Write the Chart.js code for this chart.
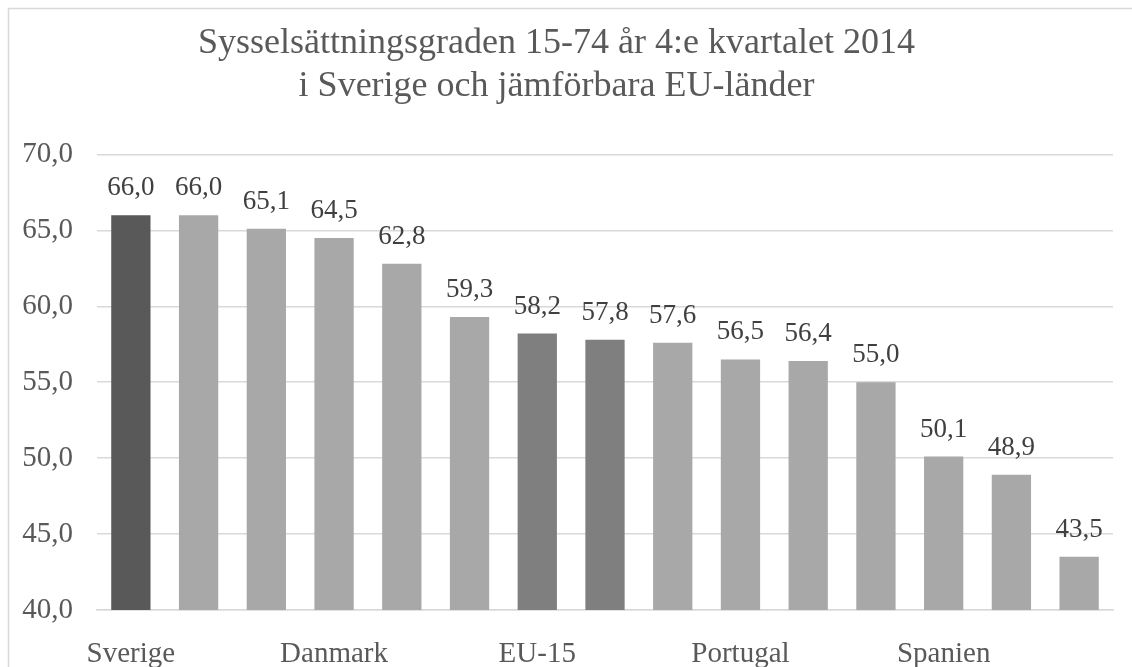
<!DOCTYPE html>
<html>
<head>
<meta charset="utf-8">
<script src="https://cdn.jsdelivr.net/npm/chart.js@4"></script>
<style>
html,body{margin:0;padding:0;background:#fff;overflow:hidden;}
#wrap{position:absolute;left:0;top:0;width:1132px;height:667px;}
</style>
</head>
<body>
<div id="wrap"><canvas id="c" width="1132" height="667"></canvas></div>
<script>
const titleLines = ["Sysselsättningsgraden 15-74 år 4:e kvartalet 2014", "i Sverige och jämförbara EU-länder"];
const categories = ["Sverige","Tyskland","Nederländerna","Danmark","Storbritannien","Österrike","EU-15","EU-28","Finland","Portugal","Frankrike","Belgien","Spanien","Italien","Grekland"];
const values = [66.0,66.0,65.1,64.5,62.8,59.3,58.2,57.8,57.6,56.5,56.4,55.0,50.1,48.9,43.5];
const barColors = ["#595959","#a8a8a8","#a8a8a8","#a8a8a8","#a8a8a8","#a8a8a8","#7f7f7f","#7f7f7f","#a8a8a8","#a8a8a8","#a8a8a8","#a8a8a8","#a8a8a8","#a8a8a8","#a8a8a8"];
const yMin = 40, yMax = 70, yStep = 5;

const FONT = '"Liberation Serif", "Times New Roman", serif';
const fmt = v => v.toFixed(1).replace('.', ',');

const borderPlugin = {
  id: 'outerBorder',
  beforeDraw(chart) {
    const ctx = chart.ctx;
    ctx.save();
    ctx.fillStyle = '#fff';
    ctx.fillRect(0, 0, chart.width, chart.height);
    ctx.strokeStyle = '#d9d9d9';
    ctx.lineWidth = 1.5;
    ctx.beginPath();
    ctx.moveTo(8.5, chart.height + 5);
    ctx.lineTo(8.5, 8.5);
    ctx.lineTo(chart.width + 5, 8.5);
    ctx.stroke();
    ctx.restore();
  }
};

const labelPlugin = {
  id: 'valueLabels',
  afterDatasetsDraw(chart) {
    const ctx = chart.ctx;
    const meta = chart.getDatasetMeta(0);
    ctx.save();
    ctx.font = '27px ' + FONT;
    ctx.fillStyle = '#404040';
    ctx.textAlign = 'center';
    ctx.textBaseline = 'alphabetic';
    meta.data.forEach((bar, i) => {
      ctx.fillText(fmt(values[i]), bar.x, bar.y - 20);
    });
    ctx.restore();
  }
};

new Chart(document.getElementById('c'), {
  type: 'bar',
  data: {
    labels: categories,
    datasets: [{
      data: values,
      backgroundColor: barColors,
      borderWidth: 0,
      categoryPercentage: 1.0,
      barPercentage: 0.58
    }]
  },
  options: {
    responsive: false,
    animation: false,
    layout: { padding: { left: 0, right: 19, top: 0, bottom: 0 } },
    plugins: {
      legend: { display: false },
      tooltip: { enabled: false },
      title: {
        display: true,
        text: titleLines,
        color: '#595959',
        font: { family: FONT, size: 36, weight: 'normal', lineHeight: 1.2 },
        padding: { top: 22, bottom: 46 }
      }
    },
    scales: {
      x: {
        grid: { display: false, drawTicks: false },
        border: { display: true, color: '#d9d9d9', width: 1.5 },
        ticks: {
          autoSkip: false,
          maxRotation: 0,
          minRotation: 0,
          color: '#595959',
          font: { family: FONT, size: 29 },
          padding: 27,
          callback: function(v, i) { return i % 3 === 0 ? categories[i] : ''; }
        },
        afterFit(scale) { scale.height = 57; }
      },
      y: {
        min: yMin,
        max: yMax,
        grid: { color: '#d9d9d9', lineWidth: 1.5, drawTicks: false },
        border: { display: false },
        ticks: {
          stepSize: yStep,
          color: '#595959',
          font: { family: FONT, size: 29 },
          padding: 24,
          callback: v => fmt(v)
        },
        afterFit(scale) { scale.width = 97; }
      }
    }
  },
  plugins: [borderPlugin, labelPlugin]
});
</script>
</body>
</html>
